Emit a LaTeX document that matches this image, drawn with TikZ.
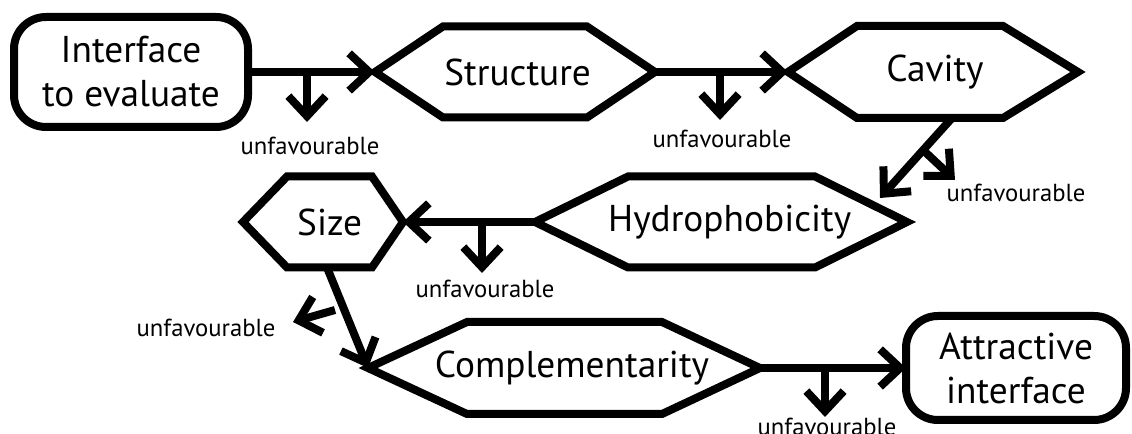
\documentclass[tikz,border=0pt]{standalone}
\usepackage{fontspec}
\setmainfont{PT Sans}
\usetikzlibrary{arrows.meta,calc}
\newcommand{\hexdraw}[3]{\draw[frame] (#1.west) -- ([xshift=#2]#1.north west) -- ([xshift=-#3]#1.north east) -- (#1.east) -- ([xshift=-#3]#1.south east) -- ([xshift=#2]#1.south west) -- cycle;}
\begin{document}
\begin{tikzpicture}[x=0.75pt,y=-0.75pt,
  frame/.style={draw=black,line width=6pt,line join=miter},
  hexa/.style={rectangle,inner sep=0pt,outer sep=0pt,font=\fontsize{28}{33}\selectfont},
  rbox/.style={draw=black,line width=6pt,rounded corners=24pt,inner sep=0pt,outer sep=0pt,align=center,font=\fontsize{28}{33}\selectfont},
  conn/.style={line width=6pt,-{Straight Barb[length=15pt,width=28pt]}},
  unf/.style={font=\fontsize{18.5}{20}\selectfont,inner sep=0pt,anchor=base},
]
\useasboundingbox (0,0) rectangle (1132,434);

% boxes
\node[rbox,minimum width=175.5pt,minimum height=82.5pt] (int) at (131,72) {Interface\\to evaluate};
\node[hexa,minimum width=210pt,minimum height=68.25pt] (str) at (515,72) {\hspace*{4pt}Structure};
\node[hexa,minimum width=217.5pt,minimum height=69pt] (cav) at (933,72) {\hspace*{3pt}Cavity};
\node[hexa,minimum width=279pt,minimum height=68.25pt] (hyd) at (721,222) {\hspace*{13pt}Hydrophobicity};
\node[hexa,minimum width=120pt,minimum height=68.25pt] (siz) at (323,222) {\hspace*{10pt}Size};
\node[hexa,minimum width=294pt,minimum height=69pt] (com) at (564,368) {\hspace*{12pt}Complementarity};
\node[rbox,minimum width=165pt,minimum height=78pt] (att) at (1016,368) {Attractive\\interface};

\hexdraw{str}{51pt}{51pt}
\hexdraw{cav}{51.75pt}{56.25pt}
\hexdraw{hyd}{69.75pt}{69pt}
\hexdraw{siz}{33pt}{23.25pt}
\hexdraw{com}{74.25pt}{73.5pt}

% main connectors
\coordinate (c2h) at (880,198);
\draw[conn] (int.east) -- (str.west);
\draw[conn] (str.east) -- (cav.west);
\draw[conn] ([xshift=14.25pt]cav.south) -- (c2h);
\draw[conn] (hyd.west) -- (siz.east);
\draw[conn] ([xshift=3pt]siz.south) -- (com.west);
\draw[conn] (com.east) -- (att.west);

% unfavourable branches
\coordinate (u1s) at (307,72);  \coordinate (u1e) at (307,122);
\coordinate (u2s) at (720,72);  \coordinate (u2e) at (720,120);
\coordinate (u3s) at (923,150); \coordinate (u3e) at (955,180);
\coordinate (u4s) at (482,222); \coordinate (u4e) at (482,273);
\coordinate (u5s) at (335,310); \coordinate (u5e) at (293,322);
\coordinate (u6s) at (825,368); \coordinate (u6e) at (825,417);
\foreach \i in {1,...,6} {\draw[conn] (u\i s) -- (u\i e);}

\node[unf] (l1) at (310,155) {unfavourable};
\node[unf] (l2) at (722,148) {unfavourable};
\node[unf] (l3) at (1016,202) {unfavourable};
\node[unf] (l4) at (485,298) {unfavourable};
\node[unf] (l5) at (206,337) {unfavourable};
\node[unf] (l6) at (827,436) {unfavourable};
\end{tikzpicture}
\end{document}
